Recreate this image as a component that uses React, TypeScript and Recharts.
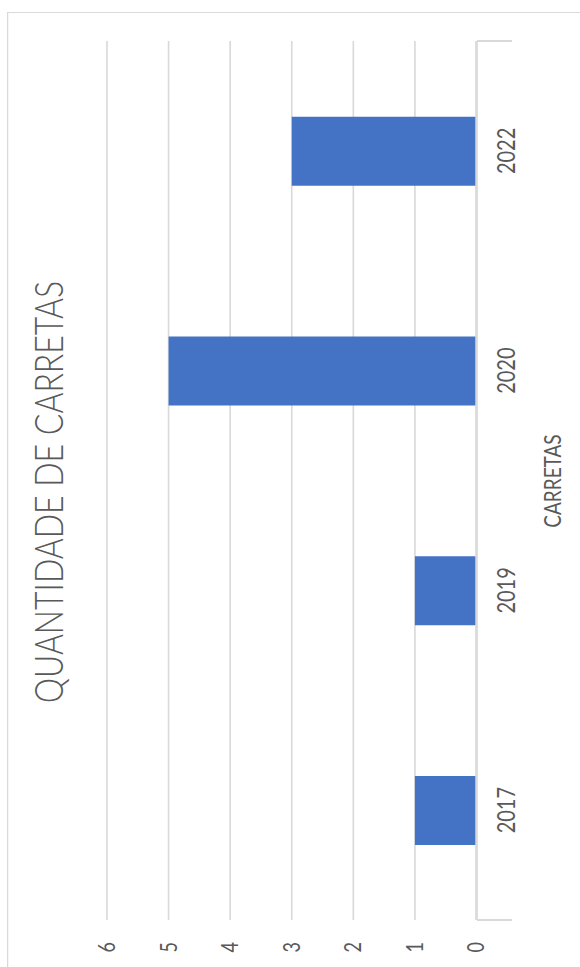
import React from "react";
import { BarChart, Bar, XAxis, YAxis, CartesianGrid } from "recharts";

const years = ["2017", "2019", "2020", "2022"];
const carretas = [1, 1, 5, 3];
const valueTicks = [0, 1, 2, 3, 4, 5, 6];

const data = years.map((ano, i) => ({ ano, qtd: carretas[i] }));

// the chart is drawn upright, then turned a quarter turn to the left
const W = 960;
const H = 480;
const S = 1.25; // horizontal stretch of the picture
const LEFT = 52;
const RIGHT = 29;
const TOP = 80;
const AXIS_H = 60;
const BOTTOM = 44.4;
const PLOT_BOTTOM = H - BOTTOM - AXIS_H;

const GRID = "#d9d9d9";
const TEXT = "#595959";
const FONT = "Lato, 'Noto Sans', sans-serif";

export default function App() {
  return (
    <div style={{ position: "absolute", left: 0, top: 0, width: 580, height: 967, overflow: "hidden", background: "#fff" }}>
      <div
        style={{
          position: "absolute",
          left: 0,
          top: 0,
          width: W,
          height: H,
          transformOrigin: "0 0",
          transform: `translate(7px, 12px) scaleX(${S}) translateY(${W}px) rotate(-90deg)`,
          border: `1px solid ${GRID}`,
          boxSizing: "border-box",
          fontFamily: FONT,
        }}
      >
        <BarChart
          width={W}
          height={H}
          data={data}
          margin={{ top: TOP, right: RIGHT, bottom: BOTTOM, left: 0 }}
          style={{ position: "absolute", left: -1, top: -1 }}
        >
          <CartesianGrid vertical={false} stroke={GRID} strokeWidth={1.3} />
          <XAxis
            dataKey="ano"
            height={AXIS_H}
            axisLine={{ stroke: GRID, strokeWidth: 2 }}
            tickLine={false}
            tickSize={0}
            tickMargin={17}
            tick={{ fill: TEXT, fontSize: 20, fontFamily: FONT }}
          />
          <YAxis
            width={LEFT}
            domain={[0, 6]}
            ticks={valueTicks}
            axisLine={false}
            tickLine={false}
            tickSize={0}
            tickMargin={22}
            tick={{ fill: TEXT, fontSize: 18, fontFamily: FONT }}
          />
          <Bar dataKey="qtd" fill="#4472C4" barSize={69} isAnimationActive={false} />
        </BarChart>

        {/* end marks of the category axis */}
        {[LEFT - 1, W - RIGHT - 1].map((x) => (
          <div
            key={x}
            style={{ position: "absolute", left: x - 1, top: PLOT_BOTTOM - 1, width: 2, height: 28, background: GRID }}
          />
        ))}

        <svg width={W} height={H} style={{ position: "absolute", left: -1, top: -1, pointerEvents: "none" }}>
          <text x={480} y={44.5} textAnchor="middle" fill={TEXT} fontSize={32} fontWeight={300} fontFamily={FONT}>
            QUANTIDADE DE CARRETAS
          </text>
          <text x={491} y={443} textAnchor="middle" fill={TEXT} fontSize={19} fontFamily={FONT}>
            CARRETAS
          </text>
        </svg>
      </div>
    </div>
  );
}
